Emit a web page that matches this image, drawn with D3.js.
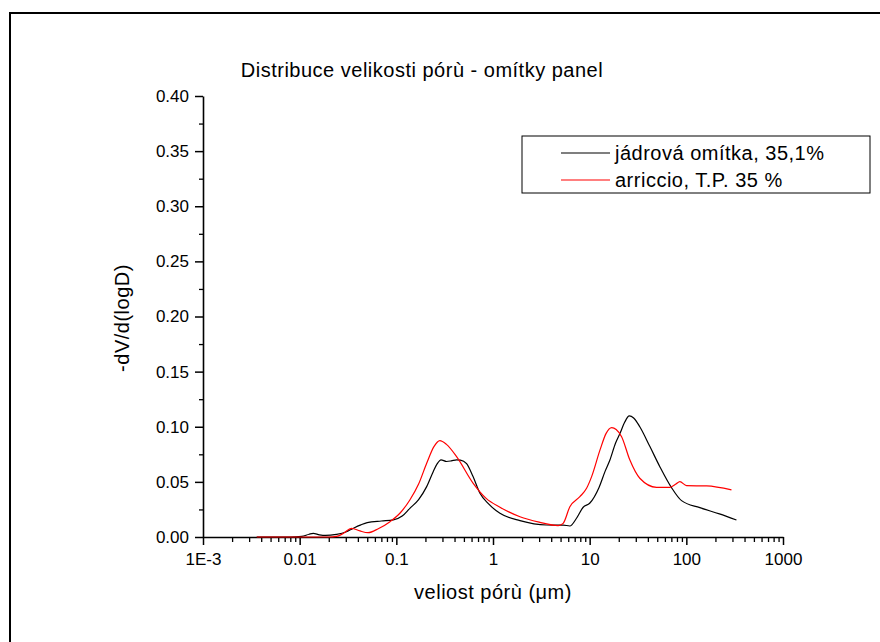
<!DOCTYPE html>
<html>
<head>
<meta charset="utf-8">
<script src="https://cdn.jsdelivr.net/npm/d3@7"></script>
<style>
    body { margin: 0; background: #fff; }
    text { font-family: 'Liberation Sans', Arial, sans-serif; fill: #000; }
</style>
</head>
<body>
<div class="main_content"></div>
<script>
// pore size (um) and -dV/d(logD)
const coreSize = [0.0036, 0.008, 0.0105, 0.0125, 0.0138, 0.016, 0.0185, 0.024, 0.03, 0.036, 0.043, 0.05, 0.07, 0.093,
    0.115, 0.138, 0.17, 0.206, 0.24, 0.265, 0.29, 0.33, 0.37, 0.42, 0.46, 0.533, 0.62, 0.733, 0.9, 1.18, 1.9, 3.58,
    5.32, 6.24, 7.31, 8.57, 10, 12.5, 14.5, 16.2, 18.5, 20.6, 23, 25.7, 28.5, 33, 42, 53.2, 70, 89.2, 138, 220, 330];
const coreValue = [0, 0, 0.0005, 0.0025, 0.0033, 0.002, 0.0014, 0.0024, 0.0045, 0.008, 0.011, 0.013, 0.0145, 0.0155,
    0.019, 0.026, 0.034, 0.0457, 0.059, 0.0665, 0.07, 0.0685, 0.069, 0.07, 0.0698, 0.0665, 0.055, 0.0397, 0.03, 0.0215,
    0.0148, 0.0109, 0.0108, 0.01, 0.017, 0.027, 0.0306, 0.045, 0.06, 0.0699, 0.085, 0.094, 0.104, 0.1098, 0.108, 0.1,
    0.082, 0.0638, 0.045, 0.033, 0.0266, 0.021, 0.0154];

const arriccioSize = [0.0036, 0.02, 0.024, 0.028, 0.0345, 0.042, 0.051, 0.065, 0.086, 0.11, 0.138, 0.17, 0.206, 0.245,
    0.282, 0.33, 0.42, 0.624, 0.85, 1.18, 1.9, 3, 4.72, 5.32, 6.24, 7.92, 9.29, 10.5, 12.8, 14.8, 16.9, 18.8, 21.4, 26,
    33, 49.2, 67.5, 78, 85.7, 100.4, 162, 293];
const arriccioValue = [0, 0, 0.0005, 0.003, 0.0079, 0.0055, 0.0039, 0.0075, 0.0139, 0.022, 0.0336, 0.048, 0.0669, 0.082,
    0.0874, 0.084, 0.0729, 0.0487, 0.035, 0.027, 0.0184, 0.0135, 0.0103, 0.0124, 0.0275, 0.0366, 0.0442, 0.055, 0.079,
    0.094, 0.0992, 0.0975, 0.091, 0.07, 0.0533, 0.0451, 0.0451, 0.048, 0.0502, 0.0466, 0.0463, 0.0427];

const seriesNames = ['jádrová omítka, 35,1%', 'arriccio, T.P. 35 %'];
const seriesColors = ['#000000', '#ff0000'];

const xTickValues = [0.001, 0.01, 0.1, 1, 10, 100, 1000];
const xTickLabels = ['1E-3', '0.01', '0.1', '1', '10', '100', '1000'];
const yTickValues = [0, 0.05, 0.1, 0.15, 0.2, 0.25, 0.3, 0.35, 0.4];

class PoreChart {
    constructor() {
        this.width = 880;
        this.height = 642;
        this.plot = {left: 203, right: 783, top: 96, bottom: 537};
    }

    render() {
        this.svg = d3.select('.main_content')
            .append('svg')
            .attr('width', this.width)
            .attr('height', this.height);

        // outer frame, only top and left edges are inside the picture
        this.svg.append('path')
            .attr('d', 'M10,' + this.height + 'V13H' + this.width)
            .style('fill', 'none')
            .style('stroke', '#000')
            .style('stroke-width', 2);

        let x = d3.scaleLog()
            .domain([1e-3, 1e3])
            .range([this.plot.left, this.plot.right]);
        let y = d3.scaleLinear()
            .domain([0, 0.4])
            .range([this.plot.bottom, this.plot.top]);

        // minor ticks
        let xMinor = [];
        for (let e = -3; e < 3; e++) {
            for (let m = 2; m < 10; m++) xMinor.push(m * Math.pow(10, e));
        }
        let yMinor = d3.range(0.025, 0.4, 0.05);

        this.svg.append('g')
            .attr('transform', 'translate(0,' + this.plot.bottom + ')')
            .call(d3.axisBottom(x).tickValues(xMinor).tickSize(5).tickFormat(''))
            .call(g => g.select('.domain').remove())
            .selectAll('line').style('stroke-width', 1.3);

        this.svg.append('g')
            .attr('transform', 'translate(' + this.plot.left + ',0)')
            .call(d3.axisLeft(y).tickValues(yMinor).tickSize(4).tickFormat(''))
            .call(g => g.select('.domain').remove())
            .selectAll('line').style('stroke-width', 1.3);

        // major axes
        let xAxis = this.svg.append('g')
            .attr('transform', 'translate(0,' + this.plot.bottom + ')')
            .call(d3.axisBottom(x)
                .tickValues(xTickValues)
                .tickSize(8)
                .tickSizeOuter(0)
                .tickPadding(8)
                .tickFormat((d, i) => xTickLabels[i]));
        xAxis.select('.domain').style('stroke-width', 1.6);
        xAxis.selectAll('line').style('stroke-width', 1.5);
        xAxis.selectAll('text').style('font-size', '17px').style('font-family', null);

        let yAxis = this.svg.append('g')
            .attr('transform', 'translate(' + this.plot.left + ',0)')
            .call(d3.axisLeft(y)
                .tickValues(yTickValues)
                .tickSize(8)
                .tickSizeOuter(0)
                .tickPadding(6)
                .tickFormat(d3.format('.2f')));
        yAxis.select('.domain').style('stroke-width', 1.6);
        yAxis.selectAll('line').style('stroke-width', 1.5);
        yAxis.selectAll('text').style('font-size', '17px').style('font-family', null);

        // curves
        let line = d3.line()
            .x(d => x(d[0]))
            .y(d => y(d[1]))
            .curve(d3.curveMonotoneX);

        let series = [
            d3.zip(coreSize, coreValue),
            d3.zip(arriccioSize, arriccioValue)
        ];
        series.forEach((s, i) => {
            this.svg.append('path')
                .datum(s)
                .attr('d', line)
                .style('fill', 'none')
                .style('stroke', seriesColors[i])
                .style('stroke-width', 1.2);
        });

        // titles
        this.svg.append('text')
            .attr('x', 422)
            .attr('y', 77)
            .attr('text-anchor', 'middle')
            .style('font-size', '20px')
            .style('letter-spacing', '0.5px')
            .text('Distribuce velikosti pórù - omítky panel');

        this.svg.append('text')
            .attr('x', 493)
            .attr('y', 599)
            .attr('text-anchor', 'middle')
            .style('font-size', '20px')
            .style('letter-spacing', '0.5px')
            .text('veliost pórù (μm)');

        this.svg.append('text')
            .attr('transform', 'translate(129,318) rotate(-90)')
            .attr('text-anchor', 'middle')
            .style('font-size', '20px')
            .style('letter-spacing', '0.5px')
            .text('-dV/d(logD)');

        // legend
        let legend = this.svg.append('g');
        legend.append('rect')
            .attr('x', 522)
            .attr('y', 136)
            .attr('width', 348)
            .attr('height', 57)
            .style('fill', '#fff')
            .style('stroke', '#000')
            .style('stroke-width', 1);
        seriesNames.forEach((name, i) => {
            let ly = 153 + i * 27;
            legend.append('line')
                .attr('x1', 561).attr('x2', 610)
                .attr('y1', ly).attr('y2', ly)
                .style('stroke', seriesColors[i])
                .style('stroke-width', 1.2);
            legend.append('text')
                .attr('x', 615)
                .attr('y', ly + 7)
                .style('font-size', '20px')
                .style('letter-spacing', '0.5px')
                .text(name);
        });
    }
}

new PoreChart().render();
</script>
</body>
</html>
